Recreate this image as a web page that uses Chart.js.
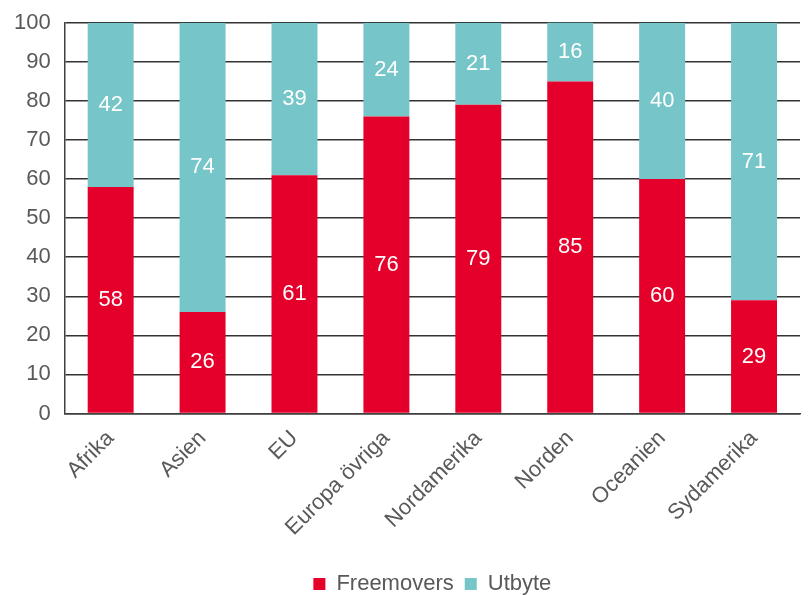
<!DOCTYPE html>
<html>
<head>
<meta charset="utf-8">
<script src="https://cdn.jsdelivr.net/npm/chart.js@4"></script>
<style>
  html, body { margin: 0; padding: 0; background: #fff; }
  #wrap { width: 808px; height: 595px; }
</style>
</head>
<body>
<div id="wrap"><canvas id="chart"></canvas></div>
<script>
// Kategorier och värden (procent)
const regions = ['Afrika', 'Asien', 'EU', 'Europa övriga', 'Nordamerika', 'Norden', 'Oceanien', 'Sydamerika'];
const freemovers = [58, 26, 61, 76, 79, 85, 60, 29];
const utbyte = [42, 74, 39, 24, 21, 16, 40, 71];
const yTicks = [0, 10, 20, 30, 40, 50, 60, 70, 80, 90, 100];

const font = 'Liberation Sans, Arial, sans-serif';
const grey = '#595959';

// skriver värdet mitt i varje stapel
const barLabels = {
  id: 'barLabels',
  afterDatasetsDraw(chart) {
    const ctx = chart.ctx;
    const area = chart.chartArea;
    ctx.save();
    ctx.fillStyle = '#fff';
    ctx.font = '22px ' + font;
    ctx.textAlign = 'center';
    ctx.textBaseline = 'middle';
    chart.data.datasets.forEach((ds, i) => {
      chart.getDatasetMeta(i).data.forEach((bar, j) => {
        const top = Math.max(bar.y, area.top);
        const y = (top + bar.base) / 2;
        ctx.fillText(ds.data[j], bar.x, y);
      });
    });
    ctx.restore();
  }
};

new Chart(document.getElementById('chart'), {
  type: 'bar',
  data: {
    labels: regions,
    datasets: [
      { label: 'Freemovers', data: freemovers, backgroundColor: '#E4002B' },
      { label: 'Utbyte', data: utbyte, backgroundColor: '#76C5C8' }
    ]
  },
  options: {
    animation: false,
    responsive: true,
    maintainAspectRatio: false,
    layout: { padding: { top: 0, right: 8, left: 0, bottom: -10 } },
    datasets: { bar: { barPercentage: 0.5, categoryPercentage: 1 } },
    scales: {
      x: {
        stacked: true,
        grid: { display: false },
        border: { display: true, color: '#404040', width: 1.5 },
        afterFit(axis) { axis.height += 17; },
        ticks: {
          color: grey,
          font: { family: font, size: 22 },
          maxRotation: 45,
          minRotation: 45,
          padding: 4
        }
      },
      y: {
        stacked: true,
        min: 0,
        max: 100,
        afterBuildTicks(axis) { axis.ticks = yTicks.map(v => ({ value: v })); },
        grid: { color: '#333', lineWidth: 1.5, drawTicks: false },
        border: { display: true, color: '#404040', width: 1.5 },
        ticks: {
          color: grey,
          font: { family: font, size: 22, lineHeight: 0.8 },
          padding: 14
        }
      }
    },
    plugins: {
      legend: {
        position: 'bottom',
        fullSize: false,
        labels: {
          color: grey,
          font: { family: font, size: 22 },
          boxWidth: 12,
          boxHeight: 12,
          padding: 11
        }
      },
      tooltip: { enabled: false }
    }
  },
  plugins: [barLabels]
});
</script>
</body>
</html>
